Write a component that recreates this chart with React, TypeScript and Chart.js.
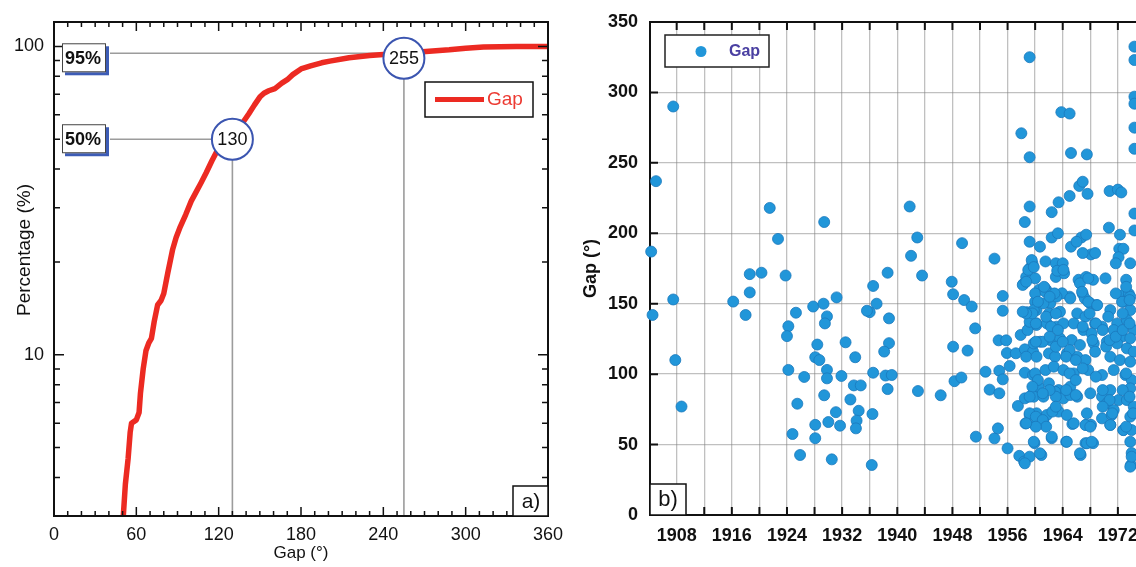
import React, { useEffect, useRef } from "react";
import { Chart, registerables } from "chart.js";

Chart.register(...registerables);

const FONT = "'Liberation Sans', Arial, Helvetica, sans-serif";

// ---------- Panel a) cumulative distribution of the gap ----------
const cdfGap = [49.5, 50.5, 52, 54, 55.5, 56.5, 60, 62, 63, 65, 67, 69, 71, 73, 75.5, 78, 80, 83, 86.5, 89, 92, 96, 100, 104, 107, 111, 115, 119, 122, 127, 130, 134, 138, 142, 146, 150, 153, 156.5, 161, 166, 170, 174, 180, 187, 195, 201, 215, 230, 240, 255, 271, 288, 300, 313, 337, 360];
const cdfPercent = [2.9, 3.0, 3.8, 4.6, 5.6, 6.0, 6.15, 6.5, 7.5, 9.0, 10.3, 10.9, 11.3, 12.8, 14.5, 15.0, 15.8, 18.5, 22, 24, 26, 28.5, 31.5, 34, 36, 39, 42.5, 46, 48, 49.5, 50.5, 54, 57, 60.5, 64.5, 68.5, 70.5, 71.8, 73, 76, 78, 81, 84.5, 86.5, 88.5, 89.6, 91.9, 93.5, 94.2, 95, 96.3, 97.5, 98.7, 99.5, 100, 100];
const cdfXTicks = [0, 60, 120, 180, 240, 300, 360];
const cdfYTicks = [10, 100];
const markerGaps = [255, 130];
const markerLevels = [95, 50];
const markerLabels = ["95%", "50%"];
const markerShift = [5, 0];

// ---------- Panel b) gap of each event versus year ----------
const yearTickLabels = [1908, 1916, 1924, 1932, 1940, 1948, 1956, 1964, 1972];
const yearGridTicks = [1908, 1912, 1916, 1920, 1924, 1928, 1932, 1936, 1940, 1944, 1948, 1952, 1956, 1960, 1964, 1968, 1972];
const gapTicks = [0, 50, 100, 150, 200, 250, 300, 350];
const yearMin = 1904.13;
const yearMax = 1974.63;

const gapEvents: [number, number][] = [
  [1904.3, 187], [1905.0, 237], [1907.5, 290], [1907.5, 153], [1904.5, 142], [1907.8, 110], [1908.7, 77],
  [1916.2, 151.5], [1918.0, 142], [1918.6, 158], [1918.6, 171], [1920.3, 172], [1921.5, 218], [1922.7, 196], [1923.8, 170],
  [1924.2, 134], [1924.0, 127], [1925.3, 143.6], [1924.2, 103], [1926.5, 98], [1925.5, 79], [1924.8, 57.5], [1925.9, 42.6],
  [1927.8, 148], [1929.3, 150], [1929.8, 141], [1929.5, 136], [1928.4, 121], [1928.1, 112], [1928.7, 110], [1929.8, 103], [1929.8, 97], [1929.4, 85], [1928.1, 64], [1928.1, 54.5], [1930.0, 66], [1931.1, 73], [1930.5, 39.5], [1931.7, 63.4], [1931.9, 98.7], [1931.2, 154.5], [1929.4, 208],
  [1932.5, 122.6], [1933.9, 112], [1933.2, 82], [1933.7, 92], [1934.7, 92], [1934.4, 74], [1934.1, 67], [1934.0, 61.5],
  [1936.4, 71.7], [1936.5, 101], [1936.3, 35.5], [1936.0, 144], [1935.6, 145], [1937.0, 150], [1936.5, 162.6],
  [1938.8, 139.6], [1938.8, 122], [1938.1, 116], [1938.3, 99], [1939.2, 99.4], [1938.6, 89.4], [1938.6, 172],
  [1941.8, 219], [1942.9, 197], [1942.0, 184], [1943.6, 170], [1943.0, 88], [1946.3, 85],
  [1947.9, 165.6], [1948.1, 156.7], [1949.7, 152.6], [1950.8, 148], [1951.3, 132.5], [1948.1, 119.5], [1950.2, 116.7], [1948.3, 95], [1949.3, 97.6], [1949.4, 193], [1951.4, 55.6],
  [1952.8, 101.7], [1953.4, 89], [1954.8, 86.4], [1954.7, 124], [1955.8, 124], [1955.3, 155.5], [1955.3, 145], [1954.8, 102.4], [1955.3, 96.3], [1954.1, 54.4], [1954.6, 61.5], [1954.1, 182],
  [1956.0, 47.3], [1956.3, 105.8], [1955.9, 115], [1957.2, 114.8], [1957.5, 77.4], [1957.7, 42], [1958.4, 38], [1959.2, 41.4], [1960.9, 42.6], [1958.6, 65], [1959.2, 71], [1959.9, 51], [1958.5, 36.7],
  [1962.4, 54.5], [1964.5, 52], [1965.4, 64.6], [1966.6, 42.6], [1967.4, 64], [1968.1, 64], [1967.3, 51], [1968.4, 51], [1970.9, 64], [1972.8, 60.3], [1973.9, 35.5], [1974.0, 44],
  [1959.2, 325], [1958.0, 271], [1959.2, 254], [1963.8, 286], [1965.0, 285], [1965.2, 257], [1967.5, 256],
  [1974.4, 332.5], [1974.4, 323], [1974.4, 297], [1974.4, 292], [1974.4, 275], [1974.4, 260], [1974.4, 214], [1974.4, 202],
  [1959.2, 219], [1958.5, 208], [1962.4, 215], [1963.4, 222], [1965.0, 226.5], [1966.4, 233.6], [1966.9, 236.6], [1967.6, 228], [1970.8, 230], [1972.0, 231], [1972.5, 229],
  [1959.2, 194], [1960.7, 190.5], [1962.4, 197], [1963.3, 200], [1965.2, 190.5], [1966.7, 197], [1967.4, 199], [1968.1, 185], [1968.7, 186], [1966.9, 186], [1970.7, 204], [1972.3, 199], [1972.2, 189], [1972.8, 189], [1966.0, 194], [1972.1, 183],
  [1961.5, 180], [1963.0, 178.7], [1964.0, 178.7], [1959.6, 178.7], [1959.2, 175], [1958.7, 169], [1958.3, 164], [1960.0, 168], [1963.0, 169], [1964.2, 171.6], [1966.3, 167], [1967.4, 169], [1968.4, 167], [1970.2, 168], [1971.7, 178.7], [1973.8, 178.7], [1973.2, 167],
  [1960.6, 160], [1961.6, 160], [1962.8, 157], [1965.0, 155], [1966.9, 157], [1972.7, 156], [1973.6, 157],
  [1959.5, 181], [1959.0, 174], [1960.2, 145.5], [1958.8, 144], [1959.3, 135], [1960.2, 136], [1963.2, 173.4], [1964.1, 174], [1966.5, 164.5], [1967.7, 168], [1961.4, 161], [1963.9, 157.4], [1967.2, 153.8], [1968.0, 150.3], [1968.9, 149], [1973.8, 155], [1972.8, 151.4], [1960.0, 151.4], [1962.2, 150.3], [1959.8, 176],
  [1958.5, 117.6], [1959.7, 116], [1958.7, 112.4], [1958.5, 101], [1959.7, 99.4], [1958.5, 82.8], [1959.7, 86.4],
  [1960.0, 157.3], [1961.5, 158.5], [1963.1, 155], [1965.1, 153.8], [1966.8, 158.5], [1967.7, 151.4], [1969.0, 149], [1970.9, 145.5], [1972.6, 151.4], [1973.8, 145.5],
  [1959.8, 145.5], [1961.2, 150.2], [1962.0, 143.1], [1963.6, 144.3], [1966.1, 143.1], [1967.3, 140.8], [1968.7, 136], [1970.6, 140.8], [1971.9, 136], [1973.3, 138.4], [1974.3, 131.3],
  [1960.2, 134.9], [1961.7, 136], [1963.1, 133.7], [1964.1, 136], [1965.6, 136], [1967.0, 131.3], [1968.2, 128.9], [1969.7, 133.7], [1971.4, 131.3], [1972.6, 126.6], [1973.8, 125.4],
  [1959.8, 121.8], [1960.7, 123], [1962.2, 124.2], [1963.6, 125.4], [1965.3, 124.2], [1966.5, 120.7], [1968.5, 121.8], [1970.4, 123], [1971.9, 121.8], [1973.3, 118.3], [1974.3, 115.9],
  [1960.2, 112.4], [1962.0, 114.7], [1962.9, 112.4], [1964.6, 114.7], [1966.1, 112.4], [1967.3, 110], [1968.7, 115.9], [1970.9, 112.4], [1972.3, 110], [1973.8, 108.8],
  [1960.0, 100.5], [1961.5, 102.9], [1962.7, 105.3], [1964.1, 102.9], [1965.6, 100.5], [1967.7, 102.9], [1969.7, 99.4], [1971.4, 102.9], [1973.1, 99.4], [1974.0, 95.8],
  [1960.5, 91.1], [1962.0, 93.5], [1963.4, 88.7], [1965.1, 91.1], [1966.1, 84], [1968.0, 86.4], [1969.7, 84], [1970.9, 88.7], [1972.1, 81.6], [1973.8, 89.9],
  [1959.8, 84], [1961.2, 84], [1962.9, 87.5], [1964.1, 82.8], [1965.1, 85.2], [1970.4, 79.3], [1971.4, 74.5], [1973.3, 81.6], [1974.3, 76.9],
  [1960.2, 72.2], [1961.7, 71], [1963.4, 73.4], [1964.6, 71], [1967.5, 72.2], [1969.7, 68.6], [1971.1, 71], [1973.8, 69.8],
  [1960.0, 63.9], [1961.2, 66.2], [1965.6, 65.1], [1967.3, 63.9], [1968.0, 62.7], [1970.9, 63.9], [1972.8, 60.3], [1974.0, 60.3],
  [1962.4, 55.6], [1964.6, 52], [1967.5, 50.9], [1968.2, 52], [1959.8, 52], [1973.8, 52],
  [1960.7, 43.8], [1966.5, 43.8], [1973.8, 34.3], [1974.0, 41.4],
  [1957.9, 127.8], [1958.9, 131.3], [1959.2, 137.2], [1960.1, 136], [1959.6, 143.1], [1960.4, 151.4], [1958.7, 143.1], [1961.1, 123], [1960.1, 123], [1958.2, 144.3], [1958.2, 163.3], [1958.7, 165.6], [1961.3, 162], [1962.8, 157.3], [1962.1, 155],
  [1961.6, 140.8], [1963.0, 143.1], [1962.3, 133.7], [1963.3, 131.3], [1962.1, 126.6], [1963.0, 119.5], [1964.0, 123], [1965.0, 117.1], [1964.5, 112.4],
  [1965.9, 110], [1966.9, 104.1], [1965.0, 100.5], [1965.9, 95.8], [1964.5, 88.7], [1965.9, 85.2], [1963.0, 84], [1962.1, 88.7], [1960.4, 95.8], [1961.1, 86.4], [1959.6, 91.1], [1959.2, 84],
  [1959.2, 72.2], [1960.1, 69.8], [1961.1, 67.4], [1962.5, 73.4], [1961.6, 62.7], [1963.0, 76.9], [1960.1, 62.7], [1958.7, 65.1],
  [1967.9, 143.1], [1968.8, 136], [1966.9, 133.7], [1969.8, 131.3], [1968.3, 124.2], [1970.3, 119.5], [1970.8, 124.2], [1971.7, 126.6], [1972.7, 131.3], [1973.7, 136], [1972.7, 143.1], [1973.7, 152.6], [1971.7, 157.3], [1973.2, 162],
  [1968.8, 98.2], [1969.8, 88.7], [1970.8, 81.6], [1971.2, 72.2], [1969.8, 76.9], [1972.7, 88.7], [1973.7, 84], [1973.2, 100.5], [1974.2, 72.2], [1973.2, 62.7],
];

// ---------- Panel a) plugin ----------
const cdfPlugin = {
  id: "cdfDecor",
  beforeDatasetsDraw(chart: any) {
    const { ctx, chartArea: a, scales } = chart;
    const x = scales.x, y = scales.y;
    ctx.save();
    ctx.strokeStyle = "#9c9c9c";
    ctx.lineWidth = 1.6;
    markerGaps.forEach((g: number, i: number) => {
      const px = x.getPixelForValue(g);
      const py = y.getPixelForValue(markerLevels[i]);
      ctx.beginPath();
      ctx.moveTo(a.left + 56, py);
      ctx.lineTo(px, py);
      ctx.moveTo(px, py);
      ctx.lineTo(px, a.bottom);
      ctx.stroke();
    });
    ctx.restore();
  },
  afterDatasetsDraw(chart: any) {
    const { ctx, chartArea: a, scales } = chart;
    const x = scales.x, y = scales.y;
    ctx.save();
    // frame
    ctx.strokeStyle = "#111";
    ctx.lineWidth = 2;
    ctx.strokeRect(a.left, a.top, a.right - a.left, a.bottom - a.top);
    // inward ticks
    ctx.lineWidth = 1.5;
    ctx.beginPath();
    for (let v = 0; v <= 360; v += 10) {
      const px = x.getPixelForValue(v);
      const len = v % 60 === 0 ? 9 : 5;
      ctx.moveTo(px, a.bottom);
      ctx.lineTo(px, a.bottom - len);
      ctx.moveTo(px, a.top);
      ctx.lineTo(px, a.top + len);
    }
    for (const dec of [1, 10, 100]) {
      for (let m = 1; m <= 9; m++) {
        const v = m * dec;
        if (v < 3 || v > 120) continue;
        const py = y.getPixelForValue(v);
        const len = m === 1 ? 10 : 6;
        ctx.moveTo(a.left, py);
        ctx.lineTo(a.left + len, py);
        ctx.moveTo(a.right, py);
        ctx.lineTo(a.right - len, py);
      }
    }
    ctx.stroke();

    // percentile circles and level boxes
    markerGaps.forEach((g: number, i: number) => {
      const cx = x.getPixelForValue(g);
      const cy = y.getPixelForValue(markerLevels[i]) + markerShift[i];
      ctx.beginPath();
      ctx.arc(cx, cy, 20.5, 0, Math.PI * 2);
      ctx.fillStyle = "#fff";
      ctx.fill();
      ctx.strokeStyle = "#3b55b0";
      ctx.lineWidth = 2;
      ctx.stroke();
      ctx.fillStyle = "#111";
      ctx.font = `18px ${FONT}`;
      ctx.textAlign = "center";
      ctx.textBaseline = "middle";
      ctx.fillText(String(g), cx, cy + 1);

      const bx = a.left + 8, bw = 44, bh = 29, by = cy - 15;
      ctx.fillStyle = "#3d5cb6";
      ctx.fillRect(bx + 3, by + 3, bw, bh);
      ctx.fillStyle = "#fff";
      ctx.fillRect(bx, by, bw, bh);
      ctx.strokeStyle = "#444";
      ctx.lineWidth = 1;
      ctx.strokeRect(bx + 0.5, by + 0.5, bw - 1, bh - 1);
      ctx.fillStyle = "#111";
      ctx.font = `bold 18px ${FONT}`;
      ctx.textAlign = "left";
      ctx.fillText(markerLabels[i], bx + 3, cy + 1);
    });

    // legend
    const lx = a.right - 123, ly = a.top + 60, lw = 108, lh = 35;
    ctx.fillStyle = "#fff";
    ctx.fillRect(lx, ly, lw, lh);
    ctx.strokeStyle = "#111";
    ctx.lineWidth = 1.5;
    ctx.strokeRect(lx, ly, lw, lh);
    ctx.strokeStyle = "#ec2a22";
    ctx.lineWidth = 5;
    ctx.beginPath();
    ctx.moveTo(lx + 10, ly + 17.5);
    ctx.lineTo(lx + 59, ly + 17.5);
    ctx.stroke();
    ctx.fillStyle = "#ec3a32";
    ctx.font = `19px ${FONT}`;
    ctx.textAlign = "left";
    ctx.textBaseline = "middle";
    ctx.fillText("Gap", lx + 62, ly + 18);

    // panel tag
    const tx = a.right - 35, ty = a.bottom - 30;
    ctx.fillStyle = "#fff";
    ctx.fillRect(tx, ty, 35, 30);
    ctx.strokeStyle = "#111";
    ctx.lineWidth = 1.5;
    ctx.strokeRect(tx, ty, 35, 30);
    ctx.fillStyle = "#111";
    ctx.font = `21px ${FONT}`;
    ctx.textAlign = "center";
    ctx.fillText("a)", tx + 18, ty + 16);

    // y-axis title (placed slightly above the axis centre, as in the figure)
    ctx.save();
    ctx.translate(25, a.top + 228);
    ctx.rotate(-Math.PI / 2);
    ctx.font = `19px ${FONT}`;
    ctx.fillStyle = "#111";
    ctx.textAlign = "center";
    ctx.textBaseline = "middle";
    ctx.fillText("Percentage (%)", 0, 0);
    ctx.restore();

    ctx.restore();
  },
};

// ---------- Panel b) plugin ----------
const scatterPlugin = {
  id: "scatterDecor",
  afterDatasetsDraw(chart: any) {
    const { ctx, chartArea: a, scales } = chart;
    const x = scales.x, y = scales.y;
    ctx.save();
    // top border
    ctx.strokeStyle = "#111";
    ctx.lineWidth = 2;
    ctx.beginPath();
    ctx.moveTo(a.left, a.top);
    ctx.lineTo(a.right, a.top);
    ctx.stroke();
    // inward ticks
    ctx.lineWidth = 2;
    ctx.beginPath();
    yearGridTicks.forEach((v) => {
      const px = x.getPixelForValue(v);
      ctx.moveTo(px, a.bottom);
      ctx.lineTo(px, a.bottom - 8);
      ctx.moveTo(px, a.top);
      ctx.lineTo(px, a.top + 8);
    });
    gapTicks.forEach((v) => {
      const py = y.getPixelForValue(v);
      ctx.moveTo(a.left, py);
      ctx.lineTo(a.left + 8, py);
    });
    ctx.stroke();

    // legend
    const lx = a.left + 15, ly = a.top + 13, lw = 104, lh = 32;
    ctx.fillStyle = "#fff";
    ctx.fillRect(lx, ly, lw, lh);
    ctx.strokeStyle = "#222";
    ctx.lineWidth = 1.5;
    ctx.strokeRect(lx, ly, lw, lh);
    ctx.beginPath();
    ctx.arc(lx + 36, ly + 16.5, 5.5, 0, Math.PI * 2);
    ctx.fillStyle = "#2196d9";
    ctx.fill();
    ctx.fillStyle = "#4a40a2";
    ctx.font = `bold 16px ${FONT}`;
    ctx.textAlign = "left";
    ctx.textBaseline = "middle";
    ctx.fillText("Gap", lx + 64, ly + 17);

    // panel tag
    const tx = a.left, ty = a.bottom - 31;
    ctx.fillStyle = "#fff";
    ctx.fillRect(tx, ty, 36, 31);
    ctx.strokeStyle = "#111";
    ctx.lineWidth = 1.5;
    ctx.strokeRect(tx, ty, 36, 31);
    ctx.fillStyle = "#111";
    ctx.font = `22px ${FONT}`;
    ctx.textAlign = "center";
    ctx.fillText("b)", tx + 18, ty + 16);
    ctx.restore();
  },
};

function buildCdfConfig(): any {
  return {
    type: "line",
    data: {
      datasets: [
        {
          label: "Gap",
          data: cdfGap.map((g, i) => ({ x: g, y: cdfPercent[i] })),
          borderColor: "#ec2a22",
          borderWidth: 5.5,
          pointRadius: 0,
          tension: 0,
          fill: false,
          borderJoinStyle: "round",
          borderCapStyle: "round",
        },
      ],
    },
    options: {
      animation: false,
      responsive: false,
      maintainAspectRatio: false,
      layout: { autoPadding: false, padding: { top: 22, right: 22, left: 0, bottom: 0 } },
      plugins: { legend: { display: false }, tooltip: { enabled: false } },
      scales: {
        x: {
          type: "linear",
          min: 0,
          max: 360,
          afterBuildTicks: (s: any) => {
            s.ticks = cdfXTicks.map((v) => ({ value: v }));
          },
          afterFit: (s: any) => {
            s.height = 51;
            s.paddingLeft = 0;
            s.paddingRight = 0;
          },
          grid: { display: false, drawTicks: false },
          border: { display: false },
          ticks: {
            padding: 8,
            color: "#111",
            maxRotation: 0,
            minRotation: 0,
            autoSkip: false,
            font: { family: FONT, size: 18 },
            callback: (v: any) => String(v),
          },
          title: {
            display: true,
            text: "Gap (°)",
            color: "#111",
            font: { family: FONT, size: 17 },
            padding: { top: 0, bottom: 3 },
          },
        },
        y: {
          type: "logarithmic",
          min: 3,
          max: 120,
          afterBuildTicks: (s: any) => {
            s.ticks = cdfYTicks.map((v) => ({ value: v }));
          },
          afterFit: (s: any) => {
            s.width = 54;
            s.paddingTop = 0;
            s.paddingBottom = 0;
          },
          grid: { display: false, drawTicks: false },
          border: { display: false },
          ticks: {
            padding: 10,
            color: "#111",
            autoSkip: false,
            font: { family: FONT, size: 18 },
            callback: (v: any) => String(v),
          },
          title: { display: false },
        },
      },
    },
    plugins: [cdfPlugin],
  };
}

function buildScatterConfig(): any {
  return {
    type: "scatter",
    data: {
      datasets: [
        {
          label: "Gap",
          data: gapEvents.map(([yr, g]) => ({ x: yr, y: g })),
          backgroundColor: "#2196d9",
          borderColor: "#1a78bd",
          borderWidth: 0.8,
          pointRadius: 5.5,
          clip: false,
        },
      ],
    },
    options: {
      animation: false,
      responsive: false,
      maintainAspectRatio: false,
      layout: { autoPadding: false, padding: { top: 22, right: 0, left: 0, bottom: 0 } },
      plugins: { legend: { display: false }, tooltip: { enabled: false } },
      scales: {
        x: {
          type: "linear",
          min: yearMin,
          max: yearMax,
          afterBuildTicks: (s: any) => {
            s.ticks = yearGridTicks.map((v) => ({ value: v }));
          },
          afterFit: (s: any) => {
            s.height = 52;
            s.paddingLeft = 0;
            s.paddingRight = 0;
          },
          grid: { color: "rgba(130,130,130,0.5)", lineWidth: 1.3, drawTicks: false },
          border: { display: true, color: "#111", width: 2 },
          ticks: {
            padding: 10,
            color: "#111",
            maxRotation: 0,
            minRotation: 0,
            autoSkip: false,
            font: { family: FONT, size: 18, weight: "bold" },
            callback: (v: any) => (yearTickLabels.includes(v) ? String(v) : ""),
          },
        },
        y: {
          type: "linear",
          min: 0,
          max: 350,
          afterBuildTicks: (s: any) => {
            s.ticks = gapTicks.map((v) => ({ value: v }));
          },
          afterFit: (s: any) => {
            s.width = 80;
            s.paddingTop = 0;
            s.paddingBottom = 0;
          },
          grid: { color: "rgba(130,130,130,0.5)", lineWidth: 1.3, drawTicks: false },
          border: { display: true, color: "#111", width: 2 },
          ticks: {
            padding: 12,
            color: "#111",
            autoSkip: false,
            font: { family: FONT, size: 18, weight: "bold" },
            callback: (v: any) => String(v),
          },
          title: {
            display: true,
            text: "Gap (°)",
            color: "#111",
            font: { family: FONT, size: 18, weight: "bold" },
            padding: { top: 10, bottom: 0 },
          },
        },
      },
    },
    plugins: [scatterPlugin],
  };
}

export default function App() {
  const aRef = useRef<HTMLCanvasElement>(null);
  const bRef = useRef<HTMLCanvasElement>(null);

  useEffect(() => {
    const ca = new Chart(aRef.current as HTMLCanvasElement, buildCdfConfig());
    const cb = new Chart(bRef.current as HTMLCanvasElement, buildScatterConfig());
    return () => {
      ca.destroy();
      cb.destroy();
    };
  }, []);

  return (
    <div
      style={{
        position: "fixed",
        left: 0,
        top: 0,
        width: 1136,
        height: 567,
        background: "#fff",
        overflow: "hidden",
      }}
    >
      <canvas
        ref={aRef}
        width={570}
        height={567}
        style={{ position: "absolute", left: 0, top: 0, width: 570, height: 567 }}
      />
      <canvas
        ref={bRef}
        width={566}
        height={567}
        style={{ position: "absolute", left: 570, top: 0, width: 566, height: 567 }}
      />
    </div>
  );
}
